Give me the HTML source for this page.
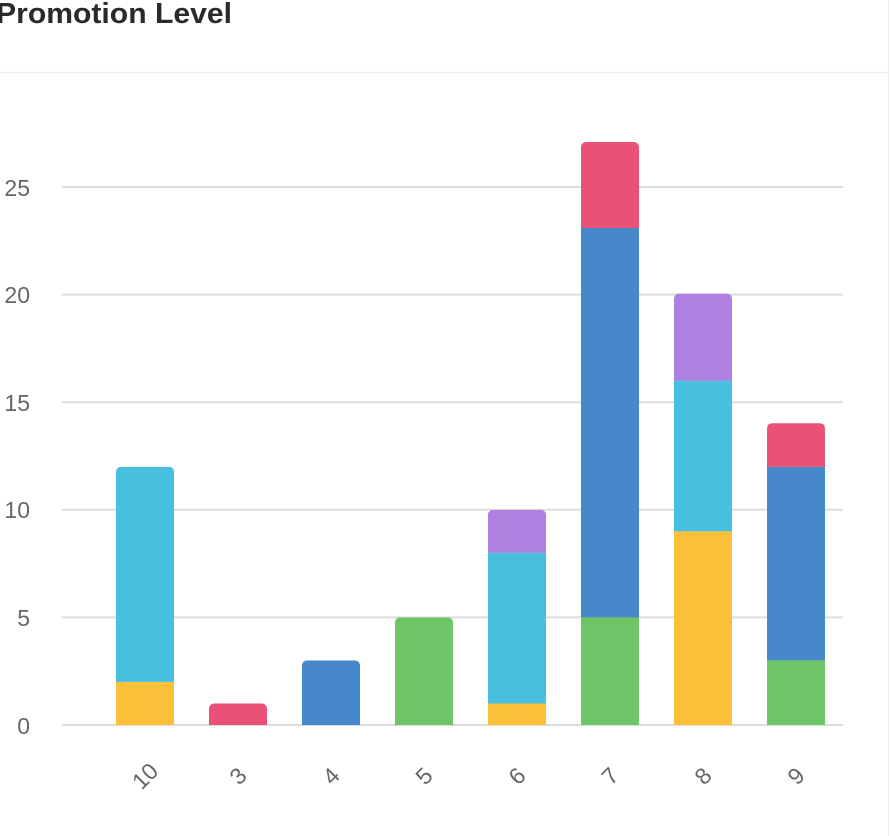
<!DOCTYPE html>
<html><head><style>
html,body{margin:0;padding:0;background:#fff;width:890px;height:836px;overflow:hidden}
svg{display:block}
</style></head><body>
<svg width="890" height="836" xmlns="http://www.w3.org/2000/svg" font-family="Liberation Sans, sans-serif">
<text x="-4" y="23" font-size="29" fill="#2a2a2a" font-weight="bold" textLength="236" lengthAdjust="spacingAndGlyphs">Promotion Level</text>
<line x1="0" y1="72.5" x2="888" y2="72.5" stroke="#eeeeee" stroke-width="1.5"/>
<line x1="888.5" y1="0" x2="888.5" y2="836" stroke="#eeeeee" stroke-width="1"/>
<g stroke="#dddddd" stroke-width="2">
<line x1="62" x2="843" y1="725" y2="725"/>
<line x1="62" x2="843" y1="617.4" y2="617.4"/>
<line x1="62" x2="843" y1="509.8" y2="509.8"/>
<line x1="62" x2="843" y1="402.2" y2="402.2"/>
<line x1="62" x2="843" y1="294.6" y2="294.6"/>
<line x1="62" x2="843" y1="187" y2="187"/>
</g>
<g font-size="23" fill="#666" text-anchor="end">
<text x="30" y="734">0</text>
<text x="30" y="626">5</text>
<text x="30" y="518">10</text>
<text x="30" y="411">15</text>
<text x="30" y="303">20</text>
<text x="30" y="196">25</text>
</g>
<defs>
<clipPath id="c0"><rect x="116" y="466.8" width="58" height="300" rx="5"/></clipPath>
<clipPath id="c1"><rect x="209" y="703.5" width="58" height="60" rx="5"/></clipPath>
<clipPath id="c2"><rect x="302" y="660.4" width="58" height="100" rx="5"/></clipPath>
<clipPath id="c3"><rect x="395" y="617.4" width="58" height="140" rx="5"/></clipPath>
<clipPath id="c4"><rect x="488" y="509.8" width="58" height="300" rx="5"/></clipPath>
<clipPath id="c5"><rect x="581" y="142" width="58" height="700" rx="5"/></clipPath>
<clipPath id="c6"><rect x="674" y="293.6" width="58" height="500" rx="5"/></clipPath>
<clipPath id="c7"><rect x="767" y="423.2" width="58" height="400" rx="5"/></clipPath>
</defs>
<g clip-path="url(#c0)"><rect x="116" y="681.9" width="58" height="43.1" fill="#FBC037"/><rect x="116" y="466.8" width="58" height="215.1" fill="#48BFDF"/></g>
<g clip-path="url(#c1)"><rect x="209" y="703.5" width="58" height="21.5" fill="#EA5177"/></g>
<g clip-path="url(#c2)"><rect x="302" y="660.4" width="58" height="64.6" fill="#4788CB"/></g>
<g clip-path="url(#c3)"><rect x="395" y="617.4" width="58" height="107.6" fill="#6EC566"/></g>
<g clip-path="url(#c4)"><rect x="488" y="703.5" width="58" height="21.5" fill="#FBC037"/><rect x="488" y="552.8" width="58" height="150.7" fill="#48BFDF"/><rect x="488" y="509.8" width="58" height="43" fill="#AD80E2"/></g>
<g clip-path="url(#c5)"><rect x="581" y="617.4" width="58" height="107.6" fill="#6EC566"/><rect x="581" y="228" width="58" height="389.4" fill="#4788CB"/><rect x="581" y="140" width="58" height="88" fill="#EA5177"/></g>
<g clip-path="url(#c6)"><rect x="674" y="531.3" width="58" height="193.7" fill="#FBC037"/><rect x="674" y="380.7" width="58" height="150.6" fill="#48BFDF"/><rect x="674" y="292.6" width="58" height="88.1" fill="#AD80E2"/></g>
<g clip-path="url(#c7)"><rect x="767" y="660.4" width="58" height="64.6" fill="#6EC566"/><rect x="767" y="466.8" width="58" height="193.6" fill="#4788CB"/><rect x="767" y="422.7" width="58" height="44.1" fill="#EA5177"/></g>
<g font-size="23" fill="#666" text-anchor="middle">
<text transform="translate(145,776) rotate(-45)" dy="8">10</text>
<text transform="translate(238,776) rotate(-45)" dy="8">3</text>
<text transform="translate(331,776) rotate(-45)" dy="8">4</text>
<text transform="translate(424,776) rotate(-45)" dy="8">5</text>
<text transform="translate(517,776) rotate(-45)" dy="8">6</text>
<text transform="translate(610,776) rotate(-45)" dy="8">7</text>
<text transform="translate(703,776) rotate(-45)" dy="8">8</text>
<text transform="translate(796,776) rotate(-45)" dy="8">9</text>
</g>
</svg>
</body></html>
